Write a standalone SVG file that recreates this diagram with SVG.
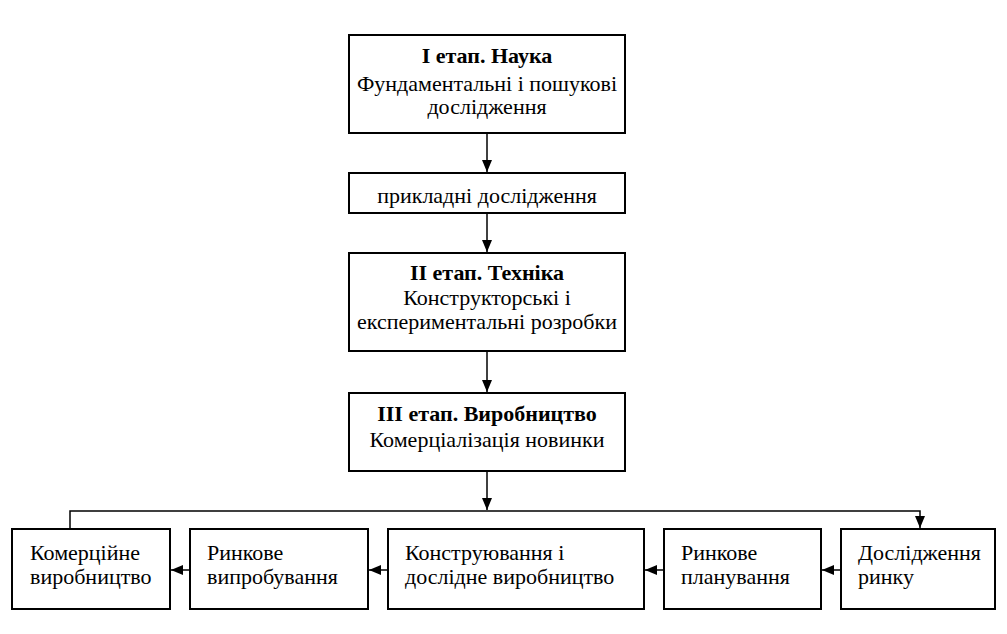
<svg xmlns="http://www.w3.org/2000/svg" width="1007" height="634" viewBox="0 0 1007 634">
<style>
.box{fill:#fff;stroke:#000;stroke-width:2}
text{font-family:"Liberation Serif","Times New Roman",serif;font-size:22px;fill:#000}
.c{text-anchor:middle}
.b{font-weight:bold}
.ln{fill:none;stroke:#000;stroke-width:1.5}
</style>
<defs>
<marker id="ah" viewBox="0 0 12 12" refX="12" refY="6" markerWidth="12" markerHeight="12" markerUnits="userSpaceOnUse" orient="auto">
<path d="M0,1 L12,6 L0,11 Z" fill="#000"/>
</marker>
</defs>
<rect width="1007" height="634" fill="#fff"/>
<g id="n1"><rect class="box" x="349" y="35" width="276" height="98"/>
<text class="c b" x="487" y="63">I етап. Наука</text>
<text class="c" x="487" y="91">Фундаментальні і пошукові</text>
<text class="c" x="487" y="114">дослідження</text></g>
<g id="n2"><rect class="box" x="349" y="173" width="276" height="40"/>
<text class="c" x="487" y="203">прикладні дослідження</text></g>
<g id="n3"><rect class="box" x="349" y="253" width="276" height="98"/>
<text class="c b" x="487" y="280">II етап. Техніка</text>
<text class="c" x="487" y="305">Конструкторські і</text>
<text class="c" x="487" y="329">експериментальні розробки</text></g>
<g id="n4"><rect class="box" x="349" y="393" width="276" height="78"/>
<text class="c b" x="487" y="421">III етап. Виробництво</text>
<text class="c" x="487" y="447">Комерціалізація новинки</text></g>
<g id="nA"><rect class="box" x="12" y="529" width="158" height="80"/>
<text x="30" y="560">Комерційне</text><text x="30" y="584">виробництво</text></g>
<g id="nB"><rect class="box" x="190" y="529" width="178" height="80"/>
<text x="207" y="560">Ринкове</text><text x="207" y="584">випробування</text></g>
<g id="nC"><rect class="box" x="388" y="529" width="256" height="80"/>
<text x="405" y="560">Конструювання і</text><text x="405" y="584">дослідне виробництво</text></g>
<g id="nD"><rect class="box" x="664" y="529" width="157" height="80"/>
<text x="681" y="560">Ринкове</text><text x="681" y="584">планування</text></g>
<g id="nE"><rect class="box" x="841" y="529" width="154" height="80"/>
<text x="858" y="560">Дослідження</text><text x="858" y="584">ринку</text></g>
<g id="connectors">
<line class="ln" x1="487" y1="133" x2="487" y2="172" marker-end="url(#ah)"/>
<line class="ln" x1="487" y1="213" x2="487" y2="252" marker-end="url(#ah)"/>
<line class="ln" x1="487" y1="351" x2="487" y2="392" marker-end="url(#ah)"/>
<line class="ln" x1="487" y1="471" x2="487" y2="510" marker-end="url(#ah)"/>
<polyline class="ln" points="70,529 70,511 920,511 920,528" marker-end="url(#ah)"/>
<line class="ln" x1="841" y1="570" x2="822" y2="570" marker-end="url(#ah)"/>
<line class="ln" x1="664" y1="570" x2="645" y2="570" marker-end="url(#ah)"/>
<line class="ln" x1="388" y1="570" x2="369" y2="570" marker-end="url(#ah)"/>
<line class="ln" x1="190" y1="570" x2="171" y2="570" marker-end="url(#ah)"/>
</g>
</svg>
